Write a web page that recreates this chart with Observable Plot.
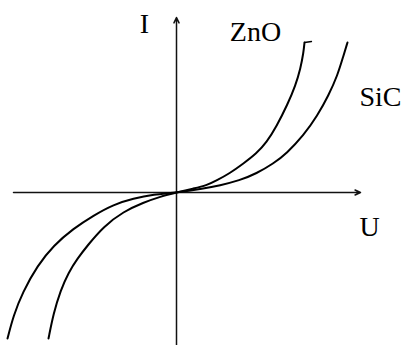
<!DOCTYPE html>
<html>
<head>
<meta charset="utf-8">
<script src="https://cdn.jsdelivr.net/npm/d3@7"></script>
<script src="https://cdn.jsdelivr.net/npm/@observablehq/plot@0.6"></script>
<style>
  html, body { margin: 0; padding: 0; background: #fff; }
  #chart svg { display: block; }
</style>
</head>
<body>
<div id="chart"></div>
<script>
// ZnO varistor I–U characteristic (arbitrary units)
const uZnO = [-6.4, -6.15, -5.8, -5.4, -4.95, -4.45, -3.65, -2.65, -1.65, -0.8, 0, 0.85, 1.5, 2.0, 2.65, 3.35, 4.0, 4.5, 5.0, 5.55, 5.95, 6.2, 6.35, 6.4];
const iZnO = [-7.3, -6.05, -4.9, -4.0, -3.3, -2.65, -1.7, -0.95, -0.5, -0.2, 0, 0.2, 0.35, 0.6, 0.95, 1.45, 1.95, 2.5, 3.3, 4.4, 5.35, 6.2, 7.0, 7.5];
// SiC varistor I–U characteristic (arbitrary units)
const uSiC = [-8.45, -8.15, -7.7, -6.95, -6.15, -5.15, -4.15, -3.15, -2.15, -1.15, 0, 1.35, 2.15, 3.15, 4.0, 4.85, 5.5, 6.35, 7.05, 7.6, 8.05, 8.35, 8.55];
const iSiC = [-7.3, -6.15, -5.0, -3.65, -2.65, -1.8, -1.15, -0.6, -0.3, -0.1, 0, 0.2, 0.35, 0.6, 0.95, 1.45, 1.95, 2.85, 3.85, 4.85, 5.85, 6.85, 7.5];
// small hook at the top of the ZnO trace
const uHook = [6.4, 6.75];
const iHook = [7.5, 7.55];

// axis extents
const axisU = [-8.15, 9.2];
const axisI = [-7.65, 8.75];

// labels
const labelText = ["I", "ZnO", "SiC", "U"];
const labelU = [-1.6, 3.95, 10.2, 9.65];
const labelI = [8.4, 8.0, 4.75, -1.75];

const zno = uZnO.map((u, k) => ({U: u, I: iZnO[k]}));
const sic = uSiC.map((u, k) => ({U: u, I: iSiC[k]}));
const hook = uHook.map((u, k) => ({U: u, I: iHook[k]}));
const labels = labelText.map((t, k) => ({t, U: labelU[k], I: labelI[k]}));
const axes = [
  {x1: axisU[0], y1: 0, x2: axisU[1], y2: 0},
  {x1: 0, y1: axisI[0], x2: 0, y2: axisI[1]}
];

const chart = Plot.plot({
  width: 405,
  height: 345,
  margin: 0,
  x: {domain: [-8.8, 11.45], axis: null},
  y: {domain: [-7.65, 9.6], axis: null},
  style: {background: "#fff"},
  marks: [
    Plot.arrow(axes, {x1: "x1", y1: "y1", x2: "x2", y2: "y2", stroke: "#111", strokeWidth: 1.5, headLength: 6, headAngle: 50}),
    Plot.line(zno, {x: "U", y: "I", curve: "basis", stroke: "#000", strokeWidth: 2}),
    Plot.line(sic, {x: "U", y: "I", curve: "basis", stroke: "#000", strokeWidth: 2}),
    Plot.line(hook, {x: "U", y: "I", stroke: "#000", strokeWidth: 1.3}),
    Plot.text(labels, {x: "U", y: "I", text: "t", fontFamily: "Liberation Serif", fontSize: 28, fill: "#000", textAnchor: "middle"})
  ]
});
document.getElementById("chart").appendChild(chart);
</script>
</body>
</html>
